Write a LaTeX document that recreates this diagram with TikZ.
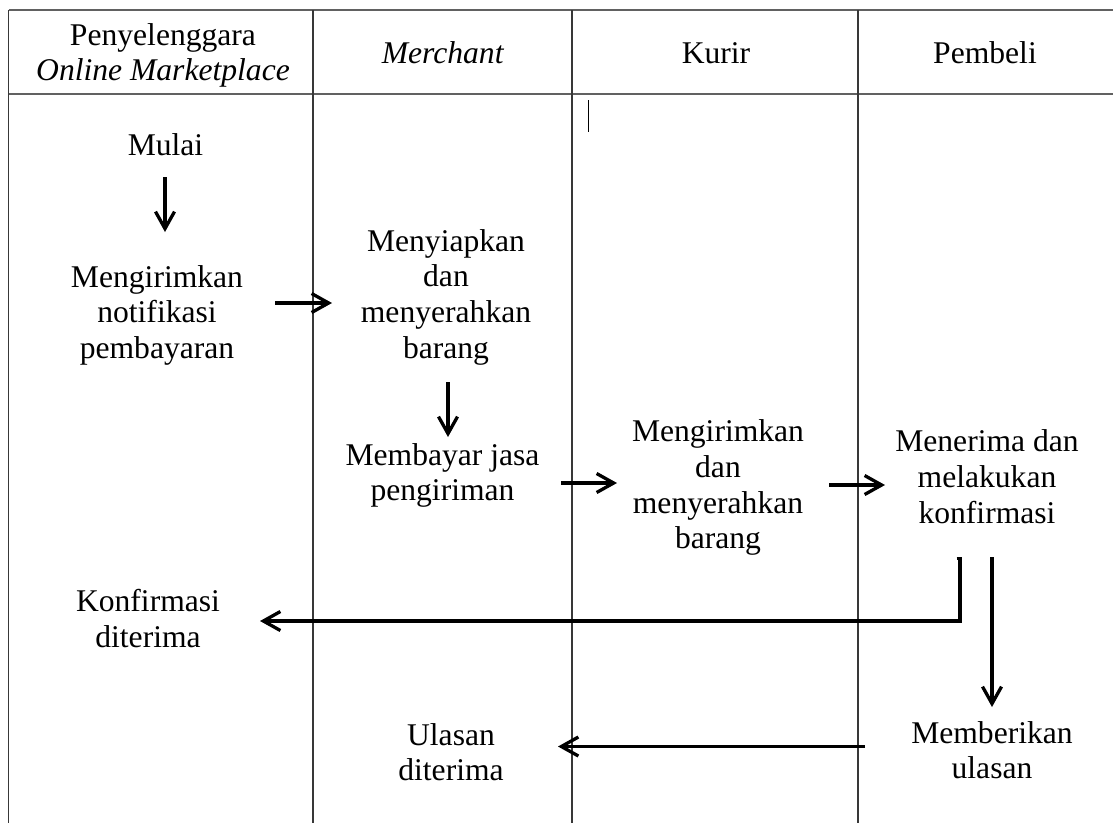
\documentclass[tikz,border=0pt]{standalone}
\usepackage{fontspec}
\setmainfont{Liberation Serif}
\usetikzlibrary{arrows.meta}
\newcommand{\mlines}[1]{\begin{tabular}[t]{@{}c@{}}#1\end{tabular}}
\begin{document}
\begin{tikzpicture}[x=1pt,y=-1pt,
  lbl/.style={anchor=base,inner sep=0pt,font=\fontsize{31.6}{35.7}\selectfont},
  hdr/.style={anchor=base,inner sep=0pt,font=\fontsize{31.6}{35}\selectfont},
  arr/.style={line width=3.3pt,line join=miter,-{Straight Barb[length=17pt,width=19pt]}},
  vline/.style={line width=1.1pt,black!78},
  hline/.style={line width=1.6pt,black!62}]
\useasboundingbox (0,0) rectangle (1113,823);
\fill[white] (0,0) rectangle (1113,823);
% table frame
\draw[hline] (8.5,10) -- (1113,10);
\draw[hline] (8.5,94) -- (1113,94);
\draw[vline] (8.5,10) -- (8.5,823);
\draw[vline] (313,10) -- (313,823);
\draw[vline] (572,10) -- (572,823);
\draw[vline] (858,10) -- (858,823);
% stray cursor mark
\draw[line width=1pt] (588,100) -- (588,132);
% headers
\node[hdr] (hOM) at (163,45.5) {\mlines{Penyelenggara\\\textit{Online Marketplace}}};
\node[hdr] (hMer) at (443,63) {\textit{Merchant}};
\node[hdr] (hKur) at (716,63) {Kurir};
\node[hdr] (hPem) at (985,63) {Pembeli};
% body texts
\node[lbl] (mulai) at (165.5,155) {\mlines{Mulai}};
\node[lbl] (notif) at (157,287) {\mlines{Mengirimkan\\notifikasi\\pembayaran}};
\node[lbl] (siap) at (446,251) {\mlines{Menyiapkan\\dan\\menyerahkan\\barang}};
\node[lbl] (bayar) at (442.5,465) {\mlines{Membayar jasa\\pengiriman}};
\node[lbl] (kirim) at (718,441.7) {\mlines{Mengirimkan\\dan\\menyerahkan\\barang}};
\node[lbl] (terima) at (987,451.7) {\mlines{Menerima dan\\melakukan\\konfirmasi}};
\node[lbl] (konf) at (148,611.7) {\mlines{Konfirmasi\\diterima}};
\node[lbl] (beri) at (992,743) {\mlines{Memberikan\\ulasan}};
\node[lbl] (ulasan) at (451,745) {\mlines{Ulasan\\diterima}};
% connector end points
\coordinate (mulaiS) at (165,177);
\coordinate (notifN) at (165,232);
\coordinate (notifE) at (275,303);
\coordinate (siapW) at (332,303);
\coordinate (siapS) at (448,382);
\coordinate (bayarN) at (448,437);
\coordinate (bayarE) at (561,483);
\coordinate (kirimW) at (617,483);
\coordinate (kirimE) at (829,485);
\coordinate (terimaW) at (885,485);
\coordinate (terimaS0) at (956.5,558.5);
\coordinate (terimaS1) at (960,558.5);
\coordinate (bend) at (960,621);
\coordinate (konfE) at (260,621);
\coordinate (terimaS2) at (992,557);
\coordinate (beriN) at (992,707);
\coordinate (beriW) at (865,746.5);
\coordinate (ulasanE) at (558,746.5);
% connectors
\draw[arr] (mulaiS) -- (notifN);
\draw[arr] (notifE) -- (siapW);
\draw[arr] (siapS) -- (bayarN);
\draw[arr] (bayarE) -- (kirimW);
\draw[arr] (kirimE) -- (terimaW);
\draw[arr] (terimaS0) -- (terimaS1) -- (bend) -- (konfE);
\draw[arr] (terimaS2) -- (beriN);
\draw[arr] (beriW) -- (ulasanE);
\end{tikzpicture}
\end{document}
